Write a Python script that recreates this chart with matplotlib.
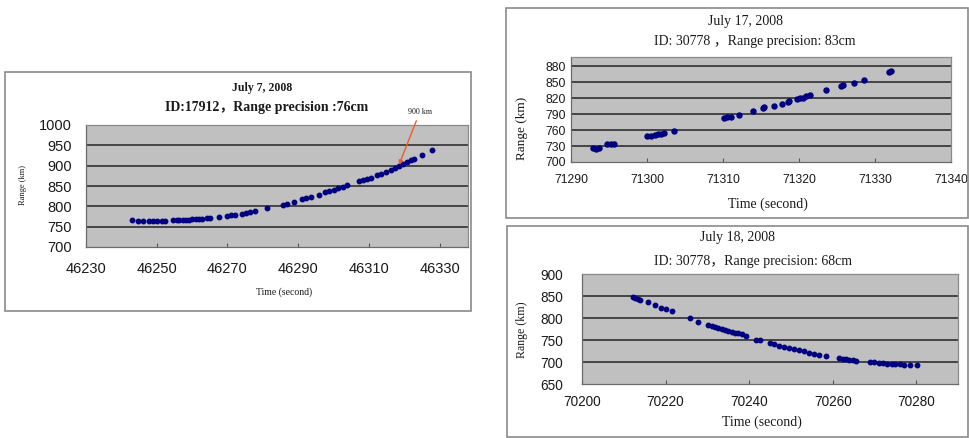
import matplotlib

matplotlib.use("Agg")
import matplotlib.pyplot as plt
from matplotlib.patches import Rectangle

W, H = 970, 438

# ---------------------------------------------------------------------------
# Data
# ---------------------------------------------------------------------------
# July 7, 2008 -- ID 17912
t_jul07 = [46243.1, 46244.8, 46246.2, 46247.7, 46249.0, 46250.2, 46251.4, 46252.4,
           46254.7, 46255.6, 46256.4, 46257.3, 46258.2, 46259.1, 46260.0, 46261.0,
           46262.0, 46262.8, 46264.2, 46265.1, 46267.5, 46269.8, 46271.0, 46272.2,
           46274.1, 46275.3, 46276.4, 46277.9, 46281.2, 46285.6, 46286.9, 46288.7,
           46291.1, 46292.3, 46293.5, 46295.8, 46297.7, 46298.8, 46300.0, 46301.2,
           46302.6, 46303.9, 46307.1, 46308.3, 46309.4, 46310.5, 46312.3, 46313.5,
           46314.8, 46316.2, 46317.5, 46318.5, 46319.6, 46320.7, 46321.8, 46322.7,
           46325.1, 46327.7]
r_jul07 = [767.6, 765.0, 764.5, 764.5, 764.5, 764.5, 764.5, 764.5,
           766.0, 766.0, 766.5, 767.0, 767.0, 767.5, 768.0, 768.5,
           769.0, 770.0, 771.0, 771.5, 774.0, 777.0, 778.0, 779.0,
           782.0, 784.0, 786.0, 788.0, 796.0, 804.0, 806.0, 810.6,
           817.0, 820.0, 823.0, 829.0, 835.0, 838.0, 841.0, 845.0,
           848.0, 852.0, 862.0, 865.0, 867.5, 870.0, 876.0, 880.0,
           884.0, 889.0, 895.0, 900.0, 905.0, 909.0, 913.0, 917.5,
           927.0, 939.0]
xticks_jul07 = [46230, 46250, 46270, 46290, 46310, 46330]
yticks_jul07 = [700, 750, 800, 850, 900, 950, 1000]

# July 17, 2008 -- ID 30778
t_jul17 = [71292.9, 71293.3, 71293.7, 71294.8, 71295.2, 71295.7, 71300.0, 71300.5,
           71301.0, 71301.4, 71301.8, 71302.2, 71303.5, 71310.1, 71310.5, 71311.0,
           71312.1, 71313.9, 71315.2, 71315.4, 71316.7, 71317.7, 71318.5, 71318.7,
           71319.7, 71320.1, 71320.5, 71320.9, 71321.4, 71323.6, 71325.5, 71325.8,
           71327.3, 71328.6, 71331.8, 71332.1]
r_jul17 = [726, 725, 727, 733, 734, 733, 748, 749,
           750, 752, 753, 755, 758, 783, 784, 785,
           789, 795, 801, 803, 806, 809, 813, 815,
           818, 820, 821, 823, 825, 835, 843, 844,
           849, 854, 869, 871]
xticks_jul17 = [71290, 71300, 71310, 71320, 71330, 71340]
yticks_jul17 = [700, 730, 760, 790, 820, 850, 880]

# July 18, 2008 -- ID 30778
t_jul18 = [70212.2, 70212.8, 70213.4, 70214.0, 70215.8, 70217.4, 70219.0, 70220.2,
           70221.6, 70225.9, 70227.8, 70230.2, 70231.0, 70231.8, 70232.6, 70233.4,
           70234.2, 70235.0, 70235.8, 70236.6, 70237.4, 70238.2, 70239.3, 70241.6,
           70242.5, 70244.9, 70246.0, 70247.2, 70248.4, 70249.6, 70250.8, 70252.0,
           70253.2, 70254.4, 70255.6, 70256.8, 70258.4, 70261.6, 70262.4, 70263.2,
           70264.0, 70264.8, 70265.6, 70269.0, 70270.0, 70271.0, 70272.0, 70273.0,
           70274.3, 70275.0, 70276.2, 70277.0, 70278.6, 70280.3]
r_jul18 = [848, 846, 843, 841, 836, 830, 822, 820,
           815, 800, 792, 784, 781, 779, 777, 775,
           773, 771, 769, 767, 765, 763, 758, 751,
           750, 743, 740, 737, 734, 731, 729, 727,
           724, 721, 719, 717, 713, 709, 707, 706,
           705, 704, 703, 700, 699, 698, 697, 696,
           695.5, 695, 694.5, 694, 694, 694]
xticks_jul18 = [70200, 70220, 70240, 70260, 70280]
yticks_jul18 = [650, 700, 750, 800, 850, 900]

# ---------------------------------------------------------------------------
# Style
# ---------------------------------------------------------------------------
SERIF = ["Liberation Serif", "Noto Sans CJK SC"]
SANS = ["Liberation Sans", "DejaVu Sans"]
NAVY = "#000080"
PLOT_BG = "#c0c0c0"
GRID = "#3a3a3a"
BORDER = "#8a8a8a"
INK = "#1a1a1a"


def px_rect(x0, y0, x1, y1):
    """Pixel box (top-left origin) -> figure fraction rect."""
    return [x0 / W, 1 - y1 / H, (x1 - x0) / W, (y1 - y0) / H]


def chart_frame(fig, x0, y0, x1, y1):
    fig.add_artist(Rectangle((x0 / W, 1 - y1 / H), (x1 - x0) / W, (y1 - y0) / H,
                             transform=fig.transFigure, fill=False,
                             ec=BORDER, lw=1.2))


def ftext(fig, x, y, s, fs, rot=0, weight="normal"):
    fig.text(x / W, 1 - y / H, s, fontsize=fs, family=SERIF, color=INK,
             ha="center", va="center", rotation=rot, fontweight=weight)


def panel(fig, box, xmax, t, r, xticks, yticks, ylim, tick_fs, xpad, ypad, ms):
    ax = fig.add_axes(px_rect(*box))
    ax.set_facecolor(PLOT_BG)
    ax.plot(t, r, ls="none", marker="o", ms=ms, color=NAVY, mec=NAVY, zorder=3)
    ax.set_xlim(xticks[0], xmax)
    ax.set_ylim(*ylim)
    ax.set_xticks(xticks)
    ax.set_yticks(yticks)
    for y in yticks:
        if ylim[0] < y < ylim[1]:
            ax.axhline(y, color=GRID, lw=1.3, zorder=1)
    ax.tick_params(axis="x", direction="in", length=3, width=0.8, color="#555555",
                   pad=xpad, labelsize=tick_fs, labelcolor=INK)
    ax.tick_params(axis="y", length=0, pad=ypad, labelsize=tick_fs, labelcolor=INK)
    for lab in ax.get_xticklabels() + ax.get_yticklabels():
        lab.set_family(SANS)
    for side, sp in ax.spines.items():
        sp.set_color("#6a6a6a" if side in ("left", "bottom") else BORDER)
        sp.set_linewidth(0.9)
    return ax


fig = plt.figure(figsize=(W / 100, H / 100), dpi=100)
fig.patch.set_facecolor("white")

# ---- panel a: July 7 ------------------------------------------------------
chart_frame(fig, 5, 72, 471, 311)
ax1 = panel(fig, (86, 125, 468, 247), 46338, t_jul07, r_jul07, xticks_jul07,
            yticks_jul07, (700, 1000), 10.5, 10.5, 10.3, 3.2)
ftext(fig, 262, 88, "July 7, 2008", 8.5, weight="bold")
ftext(fig, 267, 108, "ID:17912，Range precision :76cm", 10, weight="bold")
ftext(fig, 284, 292, "Time (second)", 7)
ftext(fig, 23, 185, "Range (km)", 6, rot=90)
ax1.annotate("900 km", xy=(46318.5, 902), xytext=(420 / W, 1 - 111.5 / H),
             textcoords="figure fraction", fontsize=5.8, family=SERIF,
             color=INK, ha="center", va="center",
             arrowprops=dict(arrowstyle="-|>", color="#f05a28", lw=1.0,
                             mutation_scale=6, shrinkA=2, shrinkB=0))

# ---- panel b: July 17 -----------------------------------------------------
chart_frame(fig, 506, 8, 968, 218)
panel(fig, (571, 57, 951, 162), 71340, t_jul17, r_jul17, xticks_jul17,
      yticks_jul17, (700, 897), 8.7, 8.4, 3.6, 3.6)
ftext(fig, 745, 22, "July 17, 2008", 10)
ftext(fig, 755, 42, "ID: 30778 ，Range precision: 83cm", 10)
ftext(fig, 768, 204, "Time (second)", 10)
ftext(fig, 522, 128, "Range (km)", 9.5, rot=90)

# ---- panel c: July 18 -----------------------------------------------------
chart_frame(fig, 507, 226, 968, 437)
panel(fig, (582, 274, 958, 384), 70290, t_jul18, r_jul18, xticks_jul18,
      yticks_jul18, (650, 900), 9.8, 7.8, 13.7, 3.2)
ftext(fig, 738, 238, "July 18, 2008", 10)
ftext(fig, 753, 262, "ID: 30778，Range precision: 68cm", 10)
ftext(fig, 762, 422, "Time (second)", 10)
ftext(fig, 522, 330, "Range (km)", 8.6, rot=90)

fig.savefig("out.png", dpi=100, facecolor="white")
plt.close(fig)
